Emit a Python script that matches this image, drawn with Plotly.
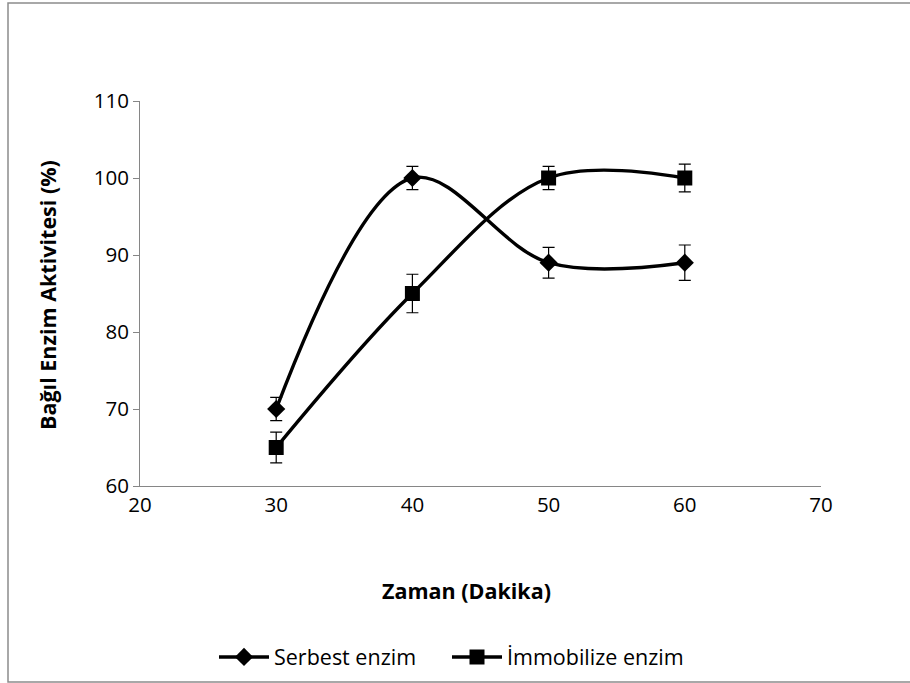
import plotly.graph_objects as go

# Time points (minutes) and relative activity (%) with error values
zaman = [30, 40, 50, 60]
serbest = [70, 100, 89, 89]
serbest_err = [1.5, 1.5, 2.0, 2.3]
immobilize = [65, 85, 100, 100]
immobilize_err = [2.0, 2.5, 1.5, 1.8]

x_ticks = [20, 30, 40, 50, 60, 70]
y_ticks = [60, 70, 80, 90, 100, 110]

FONT = "Open Sans, sans-serif"


def px_x(px):
    """Horizontal pixel position -> paper coordinate."""
    return (px - 140) / 681


def px_y(py):
    """Vertical pixel position -> paper coordinate."""
    return (486 - py) / 385


fig = go.Figure()

fig.add_trace(go.Scatter(
    x=zaman, y=serbest, name="Serbest enzim", legend="legend",
    mode="lines+markers",
    line=dict(color="black", width=3.4, shape="spline", smoothing=1),
    marker=dict(symbol="diamond", size=14, color="black"),
    error_y=dict(type="data", array=serbest_err, color="black", thickness=1.2, width=6),
))
fig.add_trace(go.Scatter(
    x=zaman, y=immobilize, name="İmmobilize enzim", legend="legend2",
    mode="lines+markers",
    line=dict(color="black", width=3.4, shape="spline", smoothing=1),
    marker=dict(symbol="square", size=15, color="black"),
    error_y=dict(type="data", array=immobilize_err, color="black", thickness=1.2, width=6),
))

tick_font = dict(family=FONT, size=20.5, color="black")

# main x axis carries the labels close to the axis line; a matching overlay
# axis draws the outside tick marks
fig.update_layout(
    xaxis=dict(
        range=[20, 70], tickvals=x_ticks, showline=True, linecolor="#868686",
        linewidth=1, ticks="", showgrid=False, zeroline=False,
        tickfont=tick_font, ticklabelstandoff=0,
    ),
    xaxis2=dict(
        matches="x", overlaying="x", anchor="y", side="bottom",
        tickvals=x_ticks, showticklabels=False, ticks="outside", ticklen=6,
        tickcolor="#868686", tickwidth=1, showline=False, showgrid=False,
        zeroline=False,
    ),
    yaxis=dict(
        range=[60, 110], tickvals=y_ticks, showline=True, linecolor="#868686",
        linewidth=1, ticks="outside", ticklen=6, tickcolor="#868686",
        tickwidth=1, showgrid=False, zeroline=False, tickfont=tick_font,
        ticklabelstandoff=0,
    ),
)

legend_common = dict(
    orientation="h", y=px_y(657), xanchor="left", yanchor="middle",
    font=dict(family=FONT, size=21.5, color="black"),
    itemwidth=50, bgcolor="rgba(0,0,0,0)",
)

fig.update_layout(
    width=910, height=683,
    margin=dict(l=140, r=89, t=101, b=197, autoexpand=False),
    paper_bgcolor="white", plot_bgcolor="white",
    showlegend=True,
    legend=dict(x=px_x(214), **legend_common),
    legend2=dict(x=px_x(447), **legend_common),
    annotations=[
        dict(text="<b>Zaman (Dakika)</b>", xref="paper", yref="paper",
             x=px_x(466), y=px_y(590),
             xanchor="center", yanchor="middle", showarrow=False,
             font=dict(family=FONT, size=21.5, color="black")),
        dict(text="<b>Bağıl Enzim Aktivitesi (%)</b>", xref="paper", yref="paper",
             x=px_x(47), y=px_y(295), textangle=-90,
             xanchor="center", yanchor="middle", showarrow=False,
             font=dict(family=FONT, size=21.5, color="black")),
    ],
    shapes=[
        dict(type="rect", xref="paper", yref="paper",
             x0=px_x(8), x1=px_x(915), y0=px_y(682), y1=px_y(3),
             line=dict(color="#8c8c8c", width=1.5), fillcolor="rgba(0,0,0,0)",
             layer="below"),
    ],
)

fig.write_html("out.html")
